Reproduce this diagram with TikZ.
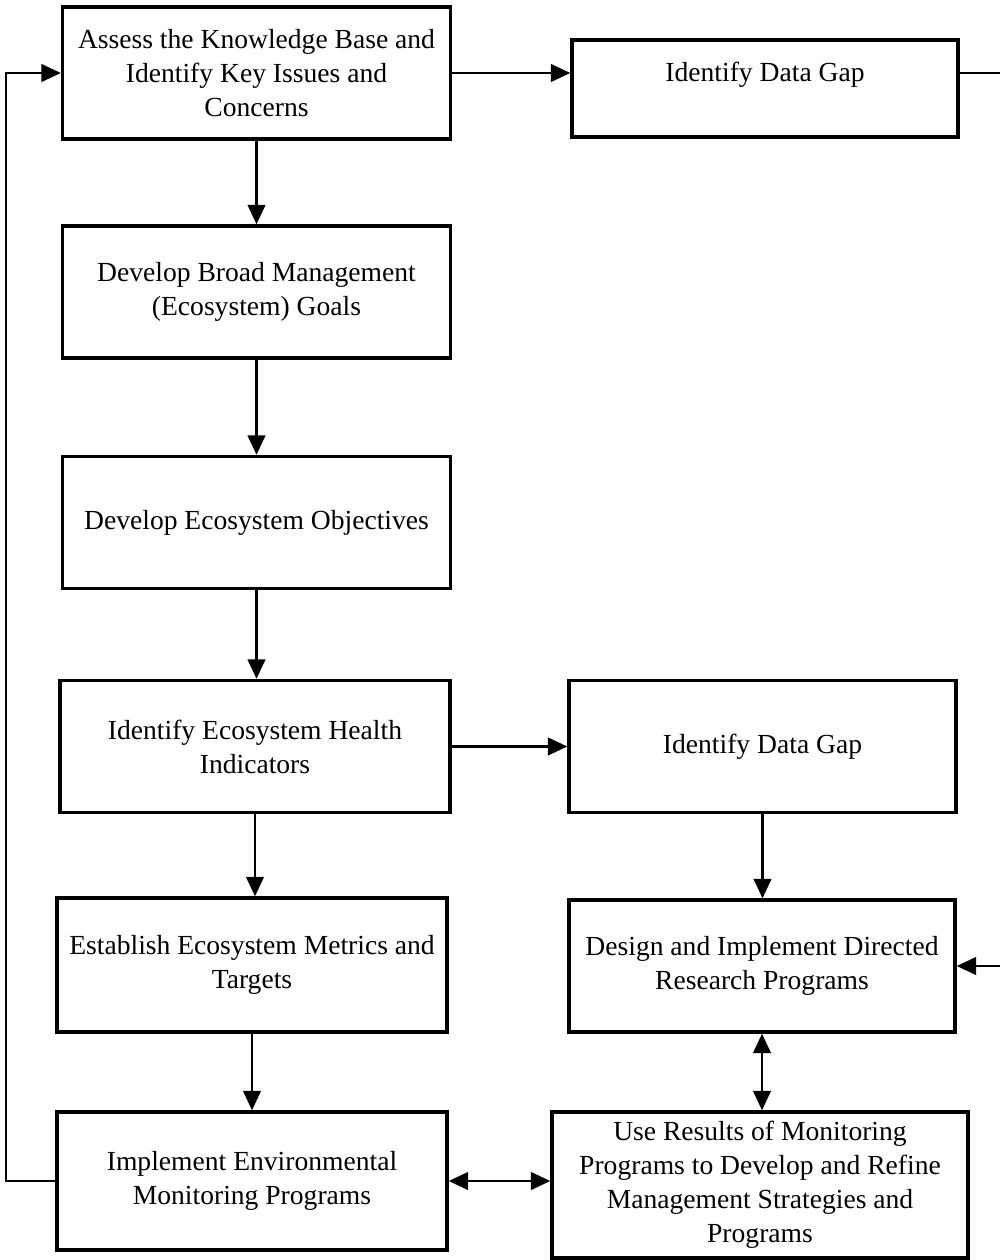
\documentclass[tikz,border=0pt]{standalone}
\usepackage{fontspec}
\setmainfont{Liberation Serif}
\usetikzlibrary{arrows.meta}

\begin{document}
\begin{tikzpicture}[
    x=0.02cm, y=-0.02cm,
    box/.style={rectangle, draw, line width=2pt, minimum width=7.76cm, minimum height=2.64cm, align=center, font=\fontsize{15.7}{19.3}\selectfont},
    arrow/.style={-{Triangle[length=11pt,width=10pt]}, line width=1.3pt},
    darrow/.style={{Triangle[length=11pt,width=10pt]}-{Triangle[length=11pt,width=10pt]}, line width=1.3pt},
    line/.style={line width=1.3pt}
]
\useasboundingbox (0,0) rectangle (1000,1260);

\node[box] (assess) at (256.5,73) {Assess the Knowledge Base and\\Identify Key Issues and\\Concerns};
\node[box, minimum width=7.72cm, minimum height=1.94cm, text depth=19pt] (gaptop) at (765,88.5) {Identify Data Gap};
\node[box] (goals) at (256.5,292) {Develop Broad Management\\(Ecosystem) Goals};
\node[box] (objectives) at (256.5,522.5) {Develop Ecosystem Objectives};
\node[box, minimum width=7.8cm] (indicators) at (255,746.5) {Identify Ecosystem Health\\Indicators};
\node[box, minimum width=7.74cm] (gapmid) at (762.5,746.5) {Identify Data Gap};
\node[box, minimum width=7.8cm, minimum height=2.68cm] (metrics) at (252,965) {Establish Ecosystem Metrics and\\Targets};
\node[box, minimum width=7.72cm] (research) at (762,966) {Design and Implement Directed\\Research Programs};
\node[box, minimum width=7.8cm, minimum height=2.76cm] (monitor) at (252,1181) {Implement Environmental\\Monitoring Programs};
\node[box, minimum width=8.32cm, minimum height=2.92cm] (results) at (760,1185) {Use Results of Monitoring\\Programs to Develop and Refine\\Management Strategies and\\Programs};

\coordinate (edgetop) at (1000,73);
\coordinate (edgemid) at (1000,966);

\draw[arrow] (assess.east) -- (assess.east -| gaptop.west);
\draw[line] (assess.east -| gaptop.east) -- (edgetop);
\draw[arrow] (assess) -- (goals);
\draw[arrow] (goals) -- (objectives);
\draw[arrow] (objectives.south) -- (objectives.south |- indicators.north);
\draw[arrow] (indicators.east) -- (gapmid.west);
\draw[arrow] (indicators.south) -- (indicators.south |- metrics.north);
\draw[arrow] (gapmid.south) -- (gapmid.south |- research.north);
\draw[arrow] (edgemid) -- (research.east);
\draw[arrow] (metrics) -- (monitor);
\draw[darrow] (research.south) -- (research.south |- results.north);
\draw[darrow] (monitor.east) -- (monitor.east -| results.west);
\draw[arrow] (monitor.west) -- ++(-49,0) |- (assess.west);
\end{tikzpicture}
\end{document}
